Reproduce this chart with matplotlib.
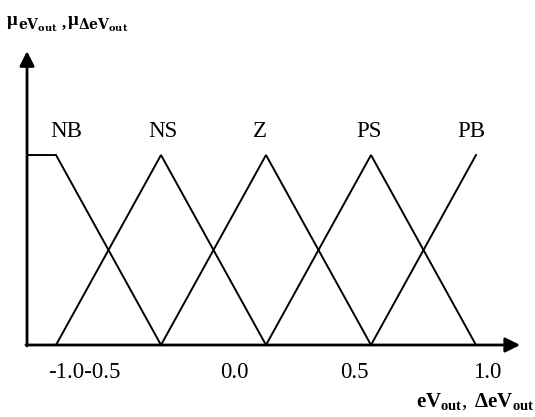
import matplotlib
matplotlib.use('Agg')
import matplotlib.pyplot as plt

plt.rcParams['font.family'] = 'Liberation Serif'
plt.rcParams['mathtext.fontset'] = 'custom'
plt.rcParams['mathtext.rm'] = 'Liberation Serif'
plt.rcParams['mathtext.bf'] = 'Liberation Serif:bold'
plt.rcParams['mathtext.it'] = 'Liberation Serif:italic'
plt.rcParams['mathtext.sf'] = 'DejaVu Serif:bold'

W, H = 535, 417

# membership functions (breakpoints, grades)
mf_names = ['NB', 'NS', 'Z', 'PS', 'PB']
mf_x = [[-1.138, -1.0, -0.5],
        [-1.0, -0.5, 0.0],
        [-0.5, 0.0, 0.5],
        [0.0, 0.5, 1.0],
        [0.5, 1.0]]
mf_y = [[1, 1, 0],
        [0, 1, 0],
        [0, 1, 0],
        [0, 1, 0],
        [0, 1]]
name_x = [-0.95, -0.49, -0.03, 0.49, 0.98]

tick_text = ['-1.0-0.5', '0.0', '0.5', '1.0']
tick_pos = [-0.867, -0.152, 0.419, 1.054]

fig = plt.figure(figsize=(W / 100, H / 100), dpi=100)
ax = fig.add_axes([0, 0, 1, 1])
ax.set_xlim(-1.2667, 1.281)
ax.set_ylim(-0.379, 1.816)
ax.axis('off')

for xs, ys in zip(mf_x, mf_y):
    ax.plot(xs, ys, color='black', lw=1.4, solid_joinstyle='miter')

for name, xp in zip(mf_names, name_x):
    ax.text(xp, 1.095, name, ha='center', va='baseline', fontsize=16.5)

# axes with arrows
ax.annotate('', xy=(-1.138, 1.547), xytext=(-1.138, -0.005),
            arrowprops=dict(arrowstyle='-|>', color='black', lw=2,
                            mutation_scale=22, shrinkA=0, shrinkB=0))
ax.annotate('', xy=(1.21, 0), xytext=(-1.143, 0),
            arrowprops=dict(arrowstyle='-|>', color='black', lw=2,
                            mutation_scale=22, shrinkA=0, shrinkB=0))

for t, xp in zip(tick_text, tick_pos):
    ax.text(xp, -0.172, t, ha='center', va='baseline', fontsize=16.5)


def ftext(px, py, s, **kw):
    # place text by pixel position (origin top-left)
    fig.text(px / W, 1 - py / H, s, ha='left', va='baseline', **kw)


# y-axis label: mu with subscripts
ftext(7, 25, '\u03bc', fontsize=13.5, fontweight='bold')
ftext(17.5, 29.3, r'$\mathsf{eV_{out}}$', fontsize=10)
ftext(62, 28, ',', fontsize=12, fontweight='bold')
ftext(68, 25, '\u03bc', fontsize=13.5, fontweight='bold')
ftext(78.5, 29.3, r'$\mathsf{\Delta eV_{out}}$', fontsize=10)

# x-axis label
ftext(416, 406.7, r'$\mathbf{eV_{out}},\ \mathbf{\Delta eV_{out}}$', fontsize=15)

fig.savefig('out.png', dpi=100)
